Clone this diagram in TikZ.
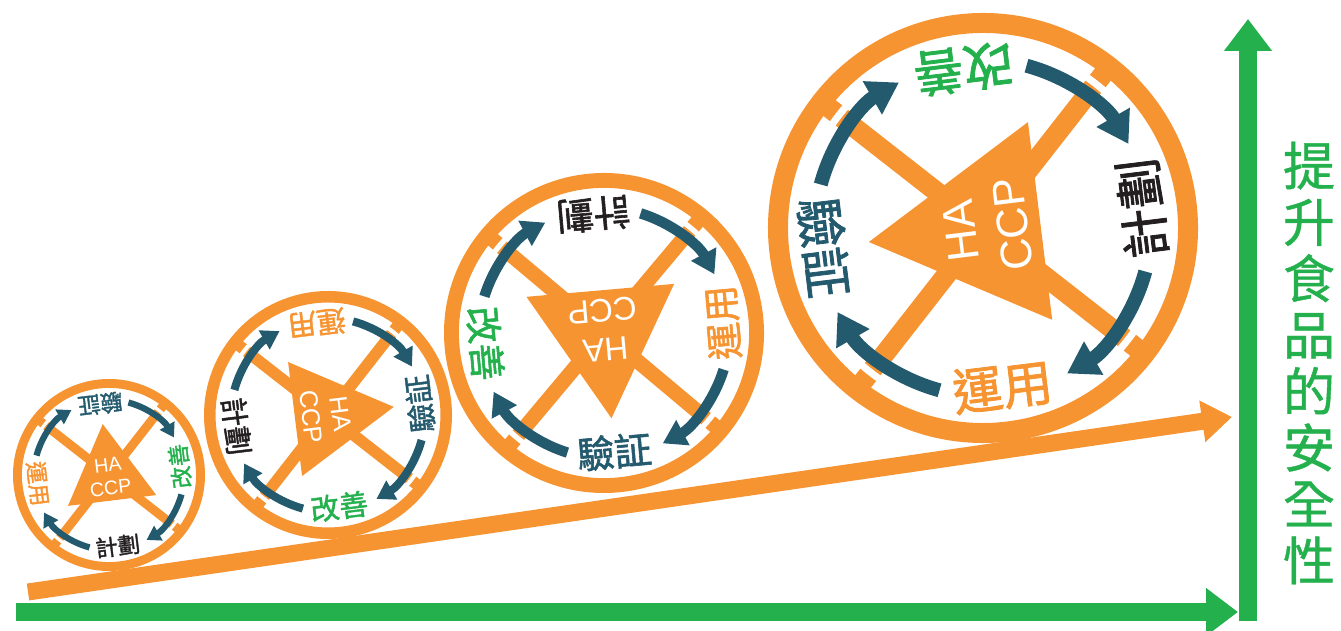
\documentclass[tikz,border=0pt]{standalone}
\usepackage{fontspec}
\setmainfont{Liberation Sans}
\newfontfamily\cjk[FakeBold=1.6]{Noto Sans CJK TC}
\newfontfamily\cjktitle[FakeBold=0.8]{Noto Sans CJK TC}
\usetikzlibrary{arrows.meta}
\definecolor{haorange}{HTML}{F79432}
\definecolor{hagreen}{HTML}{24B14D}
\definecolor{hateal}{HTML}{245A6E}
\definecolor{haink}{HTML}{231F20}
\tikzset{
	spoke/.style={draw=haorange, line width=\wscale*20pt},
	cut/.style={draw=white, line width=\wscale*7pt},
	rim/.style={draw=haorange, line width=\wscale*20pt},
	pdca arrow/.style={draw=hateal, line width=\wscale*14pt,
		-{Triangle[length=0pt 2.2, width=0pt 2.6]}},
	stage/.style={font=\cjk\fontsize{50}{60}\selectfont, inner sep=0pt},
	core/.style={font=\fontsize{44}{52}\selectfont, text=white, align=center, inner sep=0pt},
	ramp/.style={draw=haorange, line width=17pt, -{Triangle[length=30pt, width=40pt]}},
	safety axis/.style={draw=hagreen, line width=18pt, -{Triangle[length=32pt, width=46pt]}}
}
% one wheel: name, centre, scale, turn angle
\newcommand{\haccpwheel}[4]{%
	\def\wscale{#3}
	\begin{scope}[shift={#2}, rotate=#4, scale=#3, transform shape]
		\draw[spoke] (45:200) -- (225:200);
		\draw[spoke] (135:200) -- (-45:200);
		\fill[haorange] (90:115) -- (210:115) -- (330:115) -- cycle;
		\draw[cut] (0,0) circle[radius=183];
		\draw[rim] (0,0) circle[radius=205];

		\node[stage, text=haink] (#1-plan) at (-90:160) {計劃};
		\node[stage, text=haorange, rotate=-90] (#1-do) at (180:160) {運用};
		\node[stage, text=hateal, rotate=180] (#1-check) at (90:160) {驗証};
		\node[stage, text=hagreen, rotate=90] (#1-act) at (0:160) {改善};
		\node[core] (#1-core) at (0,-4) {HA\\CCP};

		\coordinate (#1-plan-out) at (-112:168);
		\coordinate (#1-do-out) at (158:168);
		\coordinate (#1-check-out) at (68:168);
		\coordinate (#1-act-out) at (-22:168);
		\draw[pdca arrow] (#1-plan-out) arc[start angle=-112, end angle=-157, radius=168];
		\draw[pdca arrow] (#1-do-out) arc[start angle=158, end angle=113, radius=168];
		\draw[pdca arrow] (#1-check-out) arc[start angle=68, end angle=23, radius=168];
		\draw[pdca arrow] (#1-act-out) arc[start angle=-22, end angle=-67, radius=168];
	\end{scope}
}

\begin{document}
\begin{tikzpicture}[x=1pt, y=1pt]
	\useasboundingbox (0,0) rectangle (1341,631);

	\coordinate (ramp-start) at (28,39);
	\coordinate (ramp-end) at (1232,214);
	\draw[ramp] (ramp-start) -- (ramp-end);

	\haccpwheel{w1}{(109,156)}{0.4465}{7}
	\haccpwheel{w2}{(328,216)}{0.5767}{-83}
	\haccpwheel{w3}{(604,298)}{0.7442}{-175}
	\haccpwheel{w4}{(983,403)}{1}{-263}

	% axes
	\coordinate (time-start) at (16,19);
	\coordinate (time-end) at (1238,19);
	\draw[safety axis] (time-start) -- (time-end);
	\coordinate (safety-start) at (1248,10);
	\coordinate (safety-end) at (1248,612);
	\draw[safety axis] (safety-start) -- (safety-end);

	\node[font=\cjktitle\fontsize{52}{56.4}\selectfont, text=hagreen, align=center, inner sep=0pt]
		(safety) at (1309,268) {提\\升\\食\\品\\的\\安\\全\\性};
\end{tikzpicture}
\end{document}
